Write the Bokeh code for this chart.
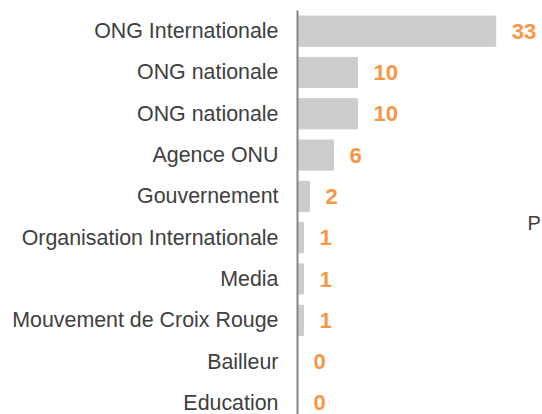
from bokeh.plotting import figure
from bokeh.models import ColumnDataSource, Range1d, FixedTicker, Label
from bokeh.core.properties import value
from bokeh.embed import file_html
from bokeh.resources import INLINE

categories = ["ONG Internationale", "ONG nationale", "ONG nationale", "Agence ONU",
              "Gouvernement", "Organisation Internationale", "Media",
              "Mouvement de Croix Rouge", "Bailleur", "Education"]
values = [33, 10, 10, 6, 2, 1, 1, 1, 0, 0]

pos = list(range(len(categories)))
src = ColumnDataSource(dict(y=pos, v=values, lbl=[str(v) for v in values]))

p = figure(width=542, height=414, output_backend="svg", toolbar_location=None,
           x_range=Range1d(0, 40.8), y_range=Range1d(9.28, -0.5),
           min_border_left=297, min_border_top=10, min_border_bottom=0, min_border_right=0)
p.outline_line_color = None
p.grid.visible = False
p.xaxis.visible = False

p.hbar(y="y", right="v", left=0, height=0.73, source=src, color="#CCCCCC")
p.text(x="v", y="y", text="lbl", source=src, x_offset=16, text_align="left",
       text_baseline="middle", text_color="#F79646", text_font_size="22px",
       text_font_style="bold", text_font=value("Liberation Sans"))

ya = p.yaxis[0]
ya.ticker = FixedTicker(ticks=pos)
ya.major_label_overrides = {i: c for i, c in enumerate(categories)}
ya.major_tick_line_color = None
ya.minor_tick_line_color = None
ya.major_label_standoff = 13
ya.major_label_text_font = "Liberation Sans"
ya.major_label_text_font_size = "21.4px"
ya.major_label_text_color = "#404040"
ya.axis_line_color = "#868686"
ya.axis_line_width = 2

p.add_layout(Label(x=230, y=192, x_units="screen", y_units="screen", text="P",
                   text_font="Liberation Sans", text_font_size="20px",
                   text_color="#404040", text_baseline="middle"))

open("out.html", "w").write(file_html(p, INLINE))
